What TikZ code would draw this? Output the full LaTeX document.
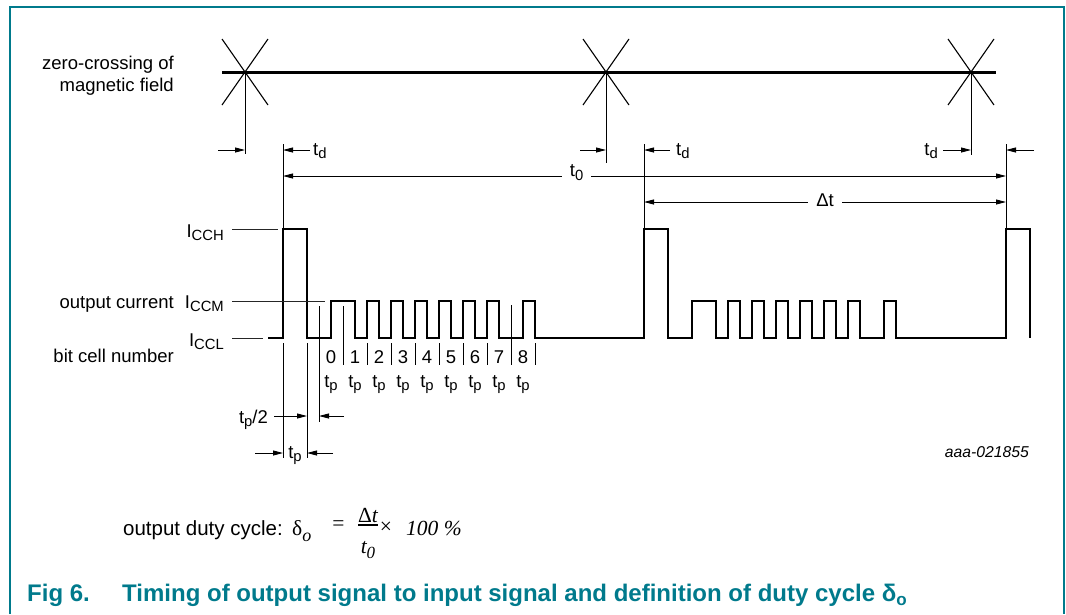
\documentclass[tikz,border=0pt]{standalone}
\usepackage{fontspec}
\setmainfont{Liberation Sans}
\newfontfamily\serifface{Liberation Serif}
\usepackage{tikz}
\usetikzlibrary{arrows.meta}
\usetikzlibrary{calc}
\usetikzlibrary{positioning}
\definecolor{nxpteal}{HTML}{007A8C}
\newcommand{\lowsub}[1]{\raisebox{-3.5pt}{\fontsize{14.8}{15}\selectfont #1}}
% one burst: start pulse, then bit cells 0..8
\newcommand{\burst}{-- ++(0,-109) -- ++(24,0) -- ++(0,109) -- ++(24,0)
    -- ++(0,-37) -- ++(24,0) -- ++(0,37) -- ++(12,0)
    \foreach \k in {2,...,7} {-- ++(0,-37) -- ++(12,0) -- ++(0,37) -- ++(12,0)}
    -- ++(12,0) -- ++(0,-37) -- ++(12,0) -- ++(0,37)}
\tikzset{
    frame/.style={
        draw=nxpteal,
        line width=1.5pt
    },
    wave/.style={
        line width=2.6pt,
        line join=miter
    },
    field/.style={line width=3pt},
    cross/.style={line width=1.1pt},
    ext/.style={line width=0.9pt},
    leader/.style={line width=0.9pt, black!85},
    dim/.style={
        line width=0.9pt,
        -{Triangle[length=10pt,width=5pt]}
    },
    dimboth/.style={
        line width=0.9pt,
        {Triangle[length=10pt,width=5pt]}-{Triangle[length=10pt,width=5pt]}
    },
    lbl/.style={
        inner sep=0pt,
        font=\fontsize{18.5}{22}\selectfont
    },
    gap/.style={
        lbl,
        fill=white,
        inner xsep=8pt,
        inner ysep=1pt
    },
    serif/.style={
        inner sep=0pt,
        font=\fontsize{21.5}{25}\selectfont\serifface
    },
    caption/.style={
        inner sep=0pt,
        text=nxpteal,
        font=\fontsize{24}{28}\selectfont\bfseries
    }
}
\begin{document}
\begin{tikzpicture}[x=1pt, y=-1pt]
    \useasboundingbox (0,0) rectangle (1066,614);
    \draw[frame] (10,614) -- (10,7) -- (1064,7) -- (1064,614);

    % magnetic field with zero crossings
    \coordinate (z1) at (245,72);
    \coordinate (z2) at (606,72);
    \coordinate (z3) at (971,72);
    \draw[field] (222,72) -- (996,72);
    \foreach \z in {z1,z2,z3} {
        \draw[cross] ($(\z)+(-23,-33)$) -- ($(\z)+(23,33)$);
        \draw[cross] ($(\z)+(-23,33)$) -- ($(\z)+(23,-33)$);
    }
    \node[lbl, align=right, anchor=base east] (fieldlbl) at (174,91) {zero-crossing of\\magnetic field};
    \draw[ext] (z1) -- ++(0,82);
    \draw[ext] (z2) -- ++(0,91);
    \draw[ext] (z3) -- ++(0,83);

    % levels and pulse starts
    \coordinate (hi) at (0,229);
    \coordinate (mi) at (0,301);
    \coordinate (lo) at (0,338);
    \coordinate (p1) at (283,229);
    \coordinate (p2) at (644,229);
    \coordinate (p3) at (1006,229);
    \foreach \p in {p1,p2,p3}
        \draw[ext] (\p) -- ++(0,-85);

    % delays t_d
    \coordinate (tdrow) at (0,150);
    \coordinate (t0row) at (0,176);
    \coordinate (dtrow) at (0,202);
    \node[lbl, anchor=base west] (td1) at (313,155) {t\lowsub{d}};
    \node[lbl, anchor=base west] (td2) at (676,155) {t\lowsub{d}};
    \node[lbl, anchor=base east] (td3) at (938,155) {t\lowsub{d}};
    \draw[dim] (z1 |- tdrow) ++(-27,0) -- (z1 |- tdrow);
    \draw[dim] ([xshift=-3pt]td1.west |- tdrow) -- (p1 |- tdrow);
    \draw[dim] (z2 |- tdrow) ++(-26,0) -- (z2 |- tdrow);
    \draw[dim] ([xshift=-6pt]td2.west |- tdrow) -- (p2 |- tdrow);
    \draw[dim] ([xshift=5pt]td3.east |- tdrow) -- (z3 |- tdrow);
    \draw[dim] (p3 |- tdrow) ++(28,0) -- (p3 |- tdrow);

    % period and high time
    \draw[dimboth] (p1 |- t0row) -- node[gap, pos=0.406, yshift=3.5pt] (t0lbl) {t\lowsub{0}} (p3 |- t0row);
    \draw[dimboth] (p2 |- dtrow) -- node[gap, yshift=1.5pt] (dtlbl) {Δt} (p3 |- dtrow);

    % output current
    \draw[wave] (268,338) \foreach \x in {283,644} { -- (\x,338) \burst } -- (1006,338)
        -- ++(0,-109) -- ++(24,0) -- ++(0,109);
    \node[lbl, anchor=base east] (icch) at (224,237) {I\lowsub{CCH}};
    \node[lbl, anchor=base east] (iccm) at (224,308) {I\lowsub{CCM}};
    \node[lbl, anchor=base east] (iccl) at (224,346) {I\lowsub{CCL}};
    \node[lbl, anchor=base east] (outlbl) at (174,308) {output current};
    \node[lbl, anchor=base east] (bitlbl) at (174,362) {bit cell number};
    \draw[leader] ([xshift=8pt]icch.east |- hi) -- ++(46,0);
    \draw[leader] ([xshift=8pt]iccm.east |- mi) -- ++(93,0);
    \draw[leader] ([xshift=8pt]iccl.east |- lo) -- ++(31,0);

    % bit cells
    \draw[ext] (283,343) -- (283,458);
    \draw[ext] (307,343) -- (307,458);
    \foreach \n/\top/\bot in {0/306/422,1/306/365,2/343/365,3/343/365,4/343/365,
                              5/343/365,6/343/365,7/343/365,8/305/365,9/343/365}
        \draw[ext] (319+24*\n,\top) -- (319+24*\n,\bot);
    \foreach \n in {0,...,8} {
        \node[lbl, anchor=base] (bit\n) at (331+24*\n,363) {\n};
        \node[lbl, anchor=base] (tp\n) at (331+24*\n,387) {t\lowsub{p}};
    }
    \node[lbl, anchor=base east] (halflbl) at (268,423) {t\lowsub{p}/2};
    \draw[dim] ([xshift=6pt]halflbl.east |- 0,416) -- (307,416);
    \draw[dim] (344,416) -- (319,416);
    \node[lbl, anchor=base] (fulllbl) at (295,458) {t\lowsub{p}};
    \draw[dim] (255,453) -- (283,453);
    \draw[dim] (333,453) -- (307,453);

    \node[lbl, font=\fontsize{15.7}{18}\selectfont\itshape, anchor=base east] (code) at (1029,457) {aaa-021855};

    % duty cycle
    \node[anchor=base west, inner sep=0pt, font=\fontsize{20.5}{24}\selectfont] (duty) at (123,535) {output duty cycle:};
    \node[serif, anchor=base west] (delta) at (292,535) {δ\raisebox{-6pt}{\fontsize{18}{18}\selectfont\itshape o}};
    \node[serif] (eq) at (338.5,525.5) {=};
    \node[serif, anchor=base] (num) at (368,522) {Δ\itshape t};
    \draw[line width=1.2pt] (358,525) -- (378,525);
    \node[serif, anchor=base] (den) at (368,553) {\itshape t\raisebox{-5pt}{\fontsize{17}{17}\selectfont 0}};
    \node[serif] (times) at (386,528) {×};
    \node[serif, anchor=base west] (pct) at (406,535) {\itshape 100 \%};

    % caption
    \node[caption, anchor=base west] (fig) at (27,601) {Fig 6.};
    \node[caption, anchor=base west] (title) at (122,601) {Timing of output signal to input signal and definition of duty cycle δ\raisebox{-4pt}{\fontsize{17}{17}\selectfont o}};
\end{tikzpicture}
\end{document}
